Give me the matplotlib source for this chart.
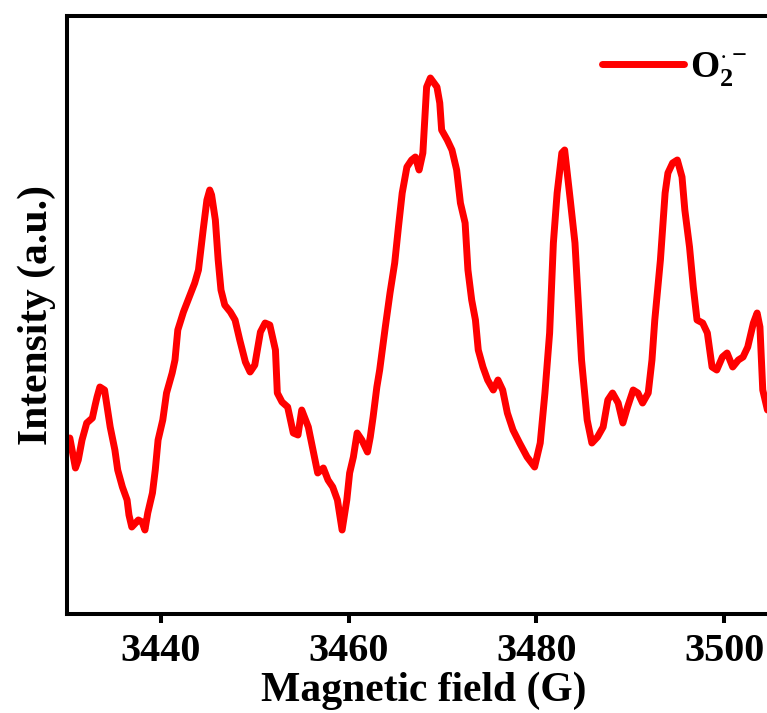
import matplotlib
matplotlib.use("Agg")
import matplotlib.pyplot as plt
import numpy as np

field = [3430.3, 3430.9, 3431.2, 3431.6, 3432.1, 3432.7, 3433.0, 3433.2, 3433.5, 3434.0,
         3434.6, 3435.1, 3435.4, 3435.9, 3436.4, 3436.6, 3436.9, 3437.6, 3438.0, 3438.3,
         3438.6, 3439.1, 3439.4, 3439.7, 3440.2, 3440.6, 3441.2, 3441.5, 3441.8, 3442.4,
         3443.1, 3443.6, 3444.0, 3444.5, 3444.9, 3445.2, 3445.4, 3445.8, 3446.1, 3446.4,
         3446.8, 3447.4, 3447.9, 3448.4, 3449.0, 3449.5, 3450.0, 3450.6, 3451.1, 3451.6,
         3452.2, 3452.4, 3452.9, 3453.5, 3454.1, 3454.6, 3455.0, 3455.7, 3456.2, 3456.7,
         3457.3, 3457.8, 3458.3, 3458.8, 3459.3, 3459.8, 3460.1, 3460.5, 3460.9, 3461.4,
         3462.0, 3462.3, 3462.6, 3463.0, 3463.3, 3463.9, 3464.4, 3464.9, 3465.3, 3465.7,
         3466.2, 3466.7, 3467.1, 3467.5, 3467.9, 3468.3, 3468.7, 3469.4, 3469.7, 3469.9,
         3470.5, 3471.0, 3471.5, 3471.9, 3472.4, 3472.7, 3473.1, 3473.5, 3473.8, 3474.3,
         3474.8, 3475.4, 3475.9, 3476.4, 3476.9, 3477.5, 3478.2, 3479.0, 3479.8, 3480.4,
         3480.9, 3481.4, 3481.8, 3482.2, 3482.7, 3483.0, 3483.6, 3484.1, 3484.4, 3484.8,
         3485.4, 3485.9, 3486.5, 3487.1, 3487.6, 3488.1, 3488.7, 3489.2, 3489.7, 3490.3,
         3490.8, 3491.3, 3491.9, 3492.3, 3492.6, 3493.2, 3493.7, 3494.0, 3494.5, 3495.0,
         3495.5, 3495.8, 3496.3, 3496.7, 3497.1, 3497.7, 3498.2, 3498.7, 3499.2, 3499.8,
         3500.3, 3500.9, 3501.5, 3502.0, 3502.5, 3503.1, 3503.5, 3503.8, 3504.1, 3504.6]

intensity = [176, 146, 154, 174, 191, 196, 209, 217, 227, 224,
             187, 164, 144, 127, 114, 99, 87, 94, 92, 84,
             101, 121, 144, 174, 194, 221, 241, 254, 284, 302,
             319, 331, 344, 384, 414, 424, 419, 394, 354, 324,
             309, 302, 294, 274, 252, 242, 249, 282, 291, 289,
             264, 221, 212, 207, 181, 179, 204, 187, 164, 141,
             146, 134, 127, 114, 84, 114, 141, 157, 181, 174,
             162, 177, 197, 227, 244, 287, 321, 351, 387, 421,
             447, 454, 457, 444, 461, 527, 536, 527, 511, 484,
             474, 464, 444, 411, 391, 344, 314, 294, 264, 247,
             234, 224, 234, 224, 201, 184, 171, 157, 147, 171,
             221, 281, 371, 421, 461, 464, 414, 371, 321, 254,
             194, 171, 177, 187, 214, 221, 211, 191, 207, 224,
             221, 211, 221, 254, 294, 354, 421, 441, 451, 454,
             437, 404, 367, 327, 294, 291, 281, 247, 244, 257,
             261, 247, 254, 257, 267, 291, 301, 287, 224, 204]

xticks = [3440, 3460, 3480, 3500]
series_label = r'O$_{\mathbf{2}}^{\mathbf{\cdot-}}$'

plt.rcParams['font.family'] = ['Liberation Serif', 'DejaVu Serif']
plt.rcParams['font.weight'] = 'bold'
plt.rcParams['mathtext.fontset'] = 'custom'
plt.rcParams['mathtext.rm'] = 'Liberation Serif:bold'
plt.rcParams['mathtext.bf'] = 'Liberation Serif:bold'
plt.rcParams['mathtext.it'] = 'Liberation Serif:bold'

fig = plt.figure(figsize=(7.67, 7.13), dpi=100)
ax = fig.add_axes([67/767, 99/713, 713.6/767, 598/713])
ax.plot(field, intensity, color='#ff0000', lw=5, label=series_label,
        solid_joinstyle='round', solid_capstyle='round')
ax.set_xlim(3430, 3506)
ax.set_ylim(0, 598)
ax.set_xticks(xticks)
ax.set_yticks([])
for s in ax.spines.values():
    s.set_linewidth(2.9)
ax.tick_params(axis='x', direction='out', length=6.5, width=2.9, labelsize=29, pad=7)
for t in ax.get_xticklabels():
    t.set_fontweight('bold')
ax.set_xlabel('Magnetic field (G)', fontsize=30, fontweight='bold', labelpad=1)
ax.set_ylabel('Intensity (a.u.)', fontsize=30, fontweight='bold', labelpad=8)
leg = ax.legend(loc='upper left', bbox_to_anchor=(583/767, 1 - 31/713),
                bbox_transform=fig.transFigure, frameon=False, fontsize=27,
                handlelength=2.2, handletextpad=0.15, borderpad=0)
fig.savefig('out.png', dpi=100)
